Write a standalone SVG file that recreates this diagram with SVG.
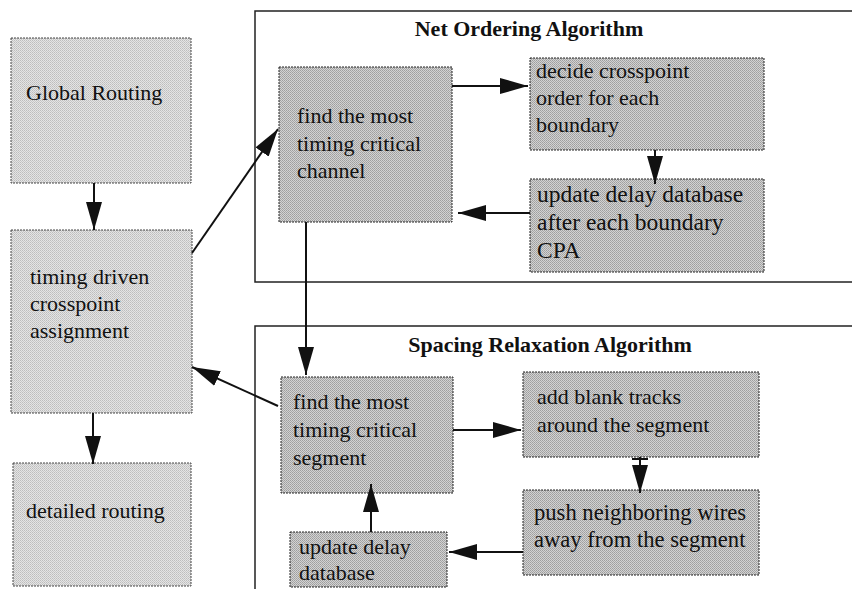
<svg xmlns="http://www.w3.org/2000/svg" width="852" height="589" viewBox="0 0 852 589">
<style>
.bg{fill:#ffffff}
.lbox{fill:url(#lightDither);stroke:#444;stroke-width:1;stroke-dasharray:2 1}
.dbox{fill:url(#darkDither);stroke:#222;stroke-width:1;stroke-dasharray:2 1}
.frame{fill:none;stroke:#222;stroke-width:1.5}
.t{font-size:22px;fill:#111}
.t.big{font-size:23.5px}
.t.mid{font-size:22.6px}
.title{font-size:22px;font-weight:bold;fill:#111}
.c{stroke:#111;stroke-width:2;fill:none}
</style>
<defs>
<pattern id="lightDither" patternUnits="userSpaceOnUse" width="2" height="2">
<rect width="2" height="2" fill="#e4e4e4"/>
<rect width="1" height="1" fill="#bdbdbd"/>
<rect x="1" y="1" width="1" height="1" fill="#c8c8c8"/>
</pattern>
<pattern id="darkDither" patternUnits="userSpaceOnUse" width="2" height="2">
<rect width="2" height="2" fill="#d2d2d2"/>
<rect width="1" height="1" fill="#9e9e9e"/>
<rect x="1" y="1" width="1" height="1" fill="#a8a8a8"/>
</pattern>
<marker id="ah" viewBox="0 0 28 16" refX="28" refY="8" markerWidth="28" markerHeight="16" markerUnits="userSpaceOnUse" orient="auto">
<path d="M0,0 L28,8 L0,16 z" fill="#111"/>
</marker>
</defs>
<rect class="bg" x="0" y="0" width="852" height="589"/>

<g font-family="Liberation Serif, DejaVu Serif, serif">
<g id="net-ordering-frame">
<rect class="frame" x="255" y="11" width="610" height="271"/>
<text class="title" x="529" y="36" text-anchor="middle">Net Ordering Algorithm</text>
</g>
<g id="spacing-relaxation-frame">
<rect class="frame" x="255" y="326" width="610" height="280"/>
<text class="title" x="550" y="352" text-anchor="middle">Spacing Relaxation Algorithm</text>
</g>

<g id="global-routing">
<rect class="lbox" x="11" y="38" width="180" height="145"/>
<text class="t" x="26" y="100">Global Routing</text>
</g>
<g id="timing-driven-cpa">
<rect class="lbox" x="11" y="230" width="181" height="183"/>
<text class="t" x="30" y="284">timing driven</text>
<text class="t" x="30" y="311">crosspoint</text>
<text class="t" x="30" y="338">assignment</text>
</g>
<g id="detailed-routing">
<rect class="lbox" x="13" y="463" width="178" height="123"/>
<text class="t" x="26" y="518">detailed routing</text>
</g>

<g id="find-channel">
<rect class="dbox" x="279" y="67" width="173" height="155"/>
<text class="t" x="297" y="123">find the most</text>
<text class="t" x="297" y="151">timing critical</text>
<text class="t" x="297" y="178">channel</text>
</g>
<g id="decide-order">
<rect class="dbox" x="530" y="58" width="234" height="92"/>
<text class="t" x="536" y="78">decide crosspoint</text>
<text class="t" x="536" y="105">order for each</text>
<text class="t" x="536" y="132">boundary</text>
</g>
<g id="update-delay-cpa">
<rect class="dbox" x="530" y="179" width="234" height="93"/>
<text class="t big" x="537" y="202">update delay database</text>
<text class="t big" x="537" y="230">after each boundary</text>
<text class="t big" x="537" y="258">CPA</text>
</g>

<g id="find-segment">
<rect class="dbox" x="281" y="377" width="172" height="116"/>
<text class="t" x="293" y="409">find the most</text>
<text class="t" x="293" y="437">timing critical</text>
<text class="t" x="293" y="465">segment</text>
</g>
<g id="add-blank-tracks">
<rect class="dbox" x="523" y="372" width="236" height="85"/>
<text class="t" x="537" y="404">add blank tracks</text>
<text class="t" x="537" y="432">around the segment</text>
</g>
<g id="push-wires">
<rect class="dbox" x="523" y="490" width="236" height="85"/>
<text class="t mid" x="534" y="520">push neighboring wires</text>
<text class="t mid" x="534" y="547">away from the segment</text>
</g>
<g id="update-delay">
<rect class="dbox" x="290" y="532" width="157" height="55"/>
<text class="t" x="299" y="554">update delay</text>
<text class="t" x="299" y="580">database</text>
</g>
</g>

<g id="connectors">
<line class="c" x1="94" y1="183" x2="94" y2="230" marker-end="url(#ah)"/>
<line class="c" x1="93" y1="413" x2="93" y2="464" marker-end="url(#ah)"/>
<line class="c" x1="192" y1="253" x2="278" y2="129" marker-end="url(#ah)"/>
<line class="c" x1="278" y1="406" x2="192" y2="367" marker-end="url(#ah)"/>
<line class="c" x1="452" y1="86" x2="528" y2="86" marker-end="url(#ah)"/>
<line class="c" x1="655" y1="150" x2="655" y2="184" marker-end="url(#ah)"/>
<line class="c" x1="530" y1="213" x2="458" y2="213" marker-end="url(#ah)"/>
<line class="c" x1="306" y1="222" x2="306" y2="375" marker-end="url(#ah)"/>
<line class="c" x1="453" y1="430" x2="521" y2="430" marker-end="url(#ah)"/>
<line class="c" x1="640" y1="457" x2="640" y2="493" marker-end="url(#ah)"/>
<line class="c" x1="632" y1="459" x2="648" y2="459" stroke-width="1.5"/>
<line class="c" x1="523" y1="552" x2="449" y2="552" marker-end="url(#ah)"/>
<line class="c" x1="371" y1="532" x2="371" y2="484" marker-end="url(#ah)"/>
</g>
</svg>
